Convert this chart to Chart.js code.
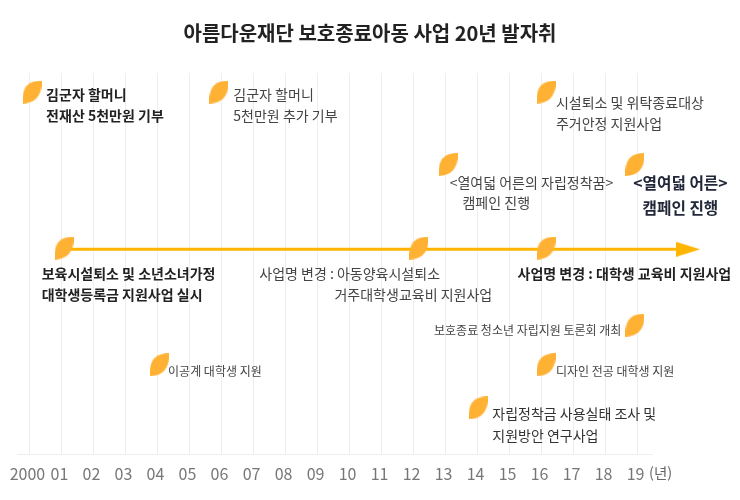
<!DOCTYPE html>
<html lang="ko">
<head>
  <meta charset="UTF-8" />
  <title>아름다운재단 보호종료아동 사업 20년 발자취</title>
  <script src="https://cdn.jsdelivr.net/npm/chart.js@4"></script>
  <style>
    body { margin: 0; background: #fff; }
    #chart { display: block; }
  </style>
</head>
<body>
  <canvas id="chart" width="740" height="500"></canvas>

  <script>
    // chart values
    const chartTitle = "아름다운재단 보호종료아동 사업 20년 발자취";
    const tickLabels = ["2000","01","02","03","04","05","06","07","08","09","10","11","12","13","14","15","16","17","18","19"];

    // leaves (year, height on a 0-100 scale)
    const leafYears  = [2000.08, 2005.92, 2016.14, 2013.08, 2018.92, 2001.08, 2012.17, 2016.14, 2018.92, 2004.06, 2016.14, 2014.02];
    const leafLevels = [95, 95, 95, 76, 76, 54.1, 54.1, 54.1, 33.9, 23.5, 23.5, 12.2];

    // timeline arrow and bottom axis
    const arrowYears  = [2001, 2020.58];
    const arrowLevels = [53.8, 53.8];
    const axisYears   = [1999.61, 2019.48];
    const axisLevels  = [0, 0];

    // text lines next to the leaves
    const labelTexts = [
      "김군자 할머니", "전재산 5천만원 기부",
      "김군자 할머니", "5천만원 추가 기부",
      "시설퇴소 및 위탁종료대상", "주거안정 지원사업",
      "<열여덟 어른의 자립정착꿈>", "캠페인 진행",
      "<열여덟 어른>", "캠페인 진행",
      "보육시설퇴소 및 소년소녀가정", "대학생등록금 지원사업 실시",
      "사업명 변경 : 아동양육시설퇴소", "거주대학생교육비 지원사업",
      "사업명 변경 : 대학생 교육비 지원사업",
      "보호종료 청소년 자립지원 토론회 개최",
      "디자인 전공 대학생 지원",
      "이공계 대학생 지원",
      "자립정착금 사용실태 조사 및", "지원방안 연구사업",
      "(년)"
    ];
    const labelYears = [
      2000.52, 2000.52,
      2006.37, 2006.37,
      2016.45, 2016.45,
      2013.13, 2013.53,
      2020.34, 2020.34,
      2000.38, 2000.38,
      2007.18, 2009.53,
      2015.25,
      2012.64,
      2016.45,
      2004.33,
      2014.46, 2014.46,
      2019.36
    ];
    const labelLevels = [
      94.2, 88.7,
      94.2, 88.7,
      92.3, 86.8,
      71.35, 66,
      71.1, 64.5,
      47.3, 41.8,
      47.3, 41.8,
      47.3,
      32.4,
      21.9,
      21.9,
      10.6, 4.9,
      -5
    ];
    const labelKinds = [
      "bold", "bold",
      "plain", "plain",
      "plain", "plain",
      "plain", "plain",
      "big", "big",
      "bold", "bold",
      "plain", "plain",
      "bold",
      "small",
      "small",
      "small",
      "dark", "dark",
      "unit"
    ];

    const FONT = '"Noto Sans CJK KR", "Noto Sans", sans-serif';
    const labelStyle = {
      bold:  { font: `bold 14px ${FONT}`, color: "#222222", align: "left" },
      plain: { font: `14px ${FONT}`, color: "#444444", align: "left" },
      dark:  { font: `14px ${FONT}`, color: "#333333", align: "left" },
      small: { font: `12px ${FONT}`, color: "#444444", align: "left" },
      big:   { font: `bold 15.7px ${FONT}`, color: "#22283a", align: "center" },
      unit:  { font: `14.5px ${FONT}`, color: "#666666", align: "left" }
    };

    // leaf and arrowhead sprites for the points
    function makeLeaf() {
      const c = document.createElement("canvas");
      c.width = 19; c.height = 23;
      const g = c.getContext("2d");
      g.fillStyle = "#ffb133";
      g.beginPath();
      g.moveTo(0, 23);
      g.bezierCurveTo(-1, 7, 5, 0, 19, 0);
      g.bezierCurveTo(20, 13, 14, 23, 0, 23);
      g.fill();
      return c;
    }
    function makeArrowHead() {
      const c = document.createElement("canvas");
      c.width = 24; c.height = 15;
      const g = c.getContext("2d");
      g.fillStyle = "#ffb400";
      g.beginPath();
      g.moveTo(0, 0);
      g.lineTo(24, 7.5);
      g.lineTo(0, 15);
      g.closePath();
      g.fill();
      return c;
    }
    const leaf = makeLeaf();
    const arrowHead = makeArrowHead();

    const zip = (xs, ys) => xs.map((x, i) => ({ x, y: ys[i] }));

    // draws the text lines through the chart's scales
    const timelineLabels = {
      id: "timelineLabels",
      afterDraw(chart) {
        const { ctx, scales: { x, y } } = chart;
        ctx.save();
        ctx.textBaseline = "middle";
        labelTexts.forEach((text, i) => {
          const s = labelStyle[labelKinds[i]];
          ctx.font = s.font;
          ctx.fillStyle = s.color;
          ctx.textAlign = s.align;
          ctx.fillText(text, x.getPixelForValue(labelYears[i]), y.getPixelForValue(labelLevels[i]));
        });
        ctx.restore();
      }
    };

    new Chart(document.getElementById("chart"), {
      type: "scatter",
      data: {
        datasets: [
          {
            data: zip(leafYears, leafLevels),
            pointStyle: leaf,
            pointRadius: 10,
            order: 1
          },
          {
            data: zip(arrowYears, arrowLevels),
            showLine: true,
            borderColor: "#ffb400",
            borderWidth: 3,
            pointStyle: arrowHead,
            pointRadius: [0, 10],
            order: 2
          },
          {
            data: zip(axisYears, axisLevels),
            showLine: true,
            borderColor: "#eeeeee",
            borderWidth: 1,
            pointRadius: 0,
            clip: false,
            order: 3
          }
        ]
      },
      options: {
        responsive: false,
        animation: false,
        layout: { padding: { left: 17, right: 17 } },
        plugins: {
          legend: { display: false },
          tooltip: { enabled: false },
          title: {
            display: true,
            text: chartTitle,
            color: "#222222",
            font: { family: FONT, size: 20, weight: "bold" },
            padding: { top: 21, bottom: 28 }
          }
        },
        scales: {
          x: {
            type: "linear",
            min: 1999.61,
            max: 2021.67,
            afterFit(scale) { scale.height = 45.5; },
            afterBuildTicks(scale) { scale.ticks = scale.ticks.filter(t => t.value <= 2019); },
            border: { display: false },
            grid: { color: "#eeeeee", drawTicks: false },
            ticks: {
              stepSize: 1,
              includeBounds: false,
              autoSkip: false,
              maxRotation: 0,
              padding: 10,
              labelOffset: -2,
              color: "#777777",
              font: { family: FONT, size: 16 },
              callback: (value, index) => tickLabels[index]
            }
          },
          y: { display: false, min: 0, max: 100 }
        }
      },
      plugins: [timelineLabels]
    });
  </script>
</body>
</html>
